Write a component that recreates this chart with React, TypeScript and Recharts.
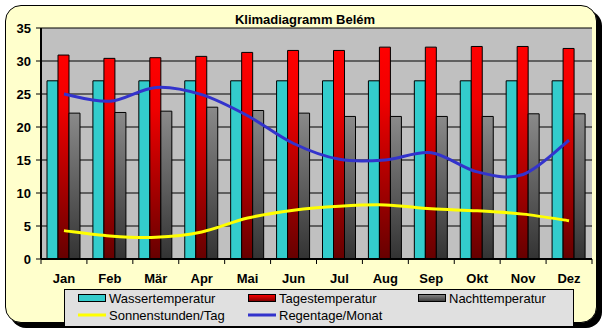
import {
  ComposedChart,
  Bar,
  Line,
  XAxis,
  YAxis,
  CartesianGrid,
} from "recharts";

const months = ["Jan", "Feb", "Mär", "Apr", "Mai", "Jun", "Jul", "Aug", "Sep", "Okt", "Nov", "Dez"];
const wasser = [27, 27, 27, 27, 27, 27, 27, 27, 27, 27, 27, 27];
const tages = [30.9, 30.4, 30.5, 30.7, 31.3, 31.6, 31.6, 32.1, 32.1, 32.2, 32.2, 31.9];
const nacht = [22.1, 22.2, 22.4, 23.0, 22.5, 22.1, 21.6, 21.6, 21.6, 21.6, 22.0, 22.0];
const sonne = [4.3, 3.5, 3.3, 4.1, 6.2, 7.4, 8.0, 8.2, 7.6, 7.3, 6.8, 5.8];
const regen = [25.0, 23.9, 26.0, 24.9, 21.7, 17.5, 15.1, 15.0, 16.1, 13.2, 12.8, 18.0];

const majorTicks = [0, 5, 10, 15, 20, 25, 30, 35];
const minorTicks = Array.from({ length: 36 }, (_, i) => i);

const data = months.map((m, i) => ({
  month: m,
  wasser: wasser[i],
  tages: tages[i],
  nacht: nacht[i],
  sonne: sonne[i],
  regen: regen[i],
}));

const FONT = "'Liberation Sans', Arial, sans-serif";

// Excel-like smoothed line (Catmull-Rom as cubic bezier)
const smoothCurve: any = (context: any) => {
  let pts: number[][] = [];
  return {
    areaStart() {},
    areaEnd() {},
    lineStart() {
      pts = [];
    },
    point(x: number, y: number) {
      pts.push([+x, +y]);
    },
    lineEnd() {
      const n = pts.length;
      if (!n) return;
      context.moveTo(pts[0][0], pts[0][1]);
      for (let i = 0; i < n - 1; i++) {
        const p0 = pts[Math.max(i - 1, 0)];
        const p1 = pts[i];
        const p2 = pts[i + 1];
        const p3 = pts[Math.min(i + 2, n - 1)];
        context.bezierCurveTo(
          p1[0] + (p2[0] - p0[0]) / 6,
          p1[1] + (p2[1] - p0[1]) / 6,
          p2[0] - (p3[0] - p1[0]) / 6,
          p2[1] - (p3[1] - p1[1]) / 6,
          p2[0],
          p2[1]
        );
      }
    },
  };
};

function MonthTick(props: any) {
  const { x, y, payload, index } = props;
  const half = payload?.offset ?? 551 / 24;
  return (
    <g>
      <line x1={x - half} x2={x - half} y1={y} y2={y + 5} stroke="#000" strokeWidth={1} />
      {index === months.length - 1 && (
        <line x1={x + half} x2={x + half} y1={y} y2={y + 5} stroke="#000" strokeWidth={1} />
      )}
      <text
        x={x}
        y={y + 24}
        textAnchor="middle"
        fill="#000"
        style={{ fontFamily: FONT, fontSize: 13, fontWeight: "bold" }}
      >
        {payload.value}
      </text>
    </g>
  );
}

const legendItems = [
  { label: "Wassertemperatur", kind: "box", fill: "#33CCCC", col: 0, row: 0 },
  { label: "Tagestemperatur", kind: "box", fill: "url(#legRed)", col: 1, row: 0 },
  { label: "Nachttemperatur", kind: "box", fill: "url(#legGray)", col: 2, row: 0 },
  { label: "Sonnenstunden/Tag", kind: "line", fill: "#FFFF00", col: 0, row: 1 },
  { label: "Regentage/Monat", kind: "line", fill: "#3333CC", col: 1, row: 1 },
];

export default function App() {
  return (
    <div style={{ position: "absolute", left: 0, top: 0, width: 609, height: 336, background: "#fff" }}>
      {/* frame with shadow */}
      <div
        style={{
          position: "absolute",
          left: 5,
          top: 5,
          width: 590,
          height: 316,
          background: "#FFFFCC",
          border: "1px solid #000",
          borderRadius: 16,
          boxShadow: "5px 5px 0 #000",
        }}
      />
      <div style={{ position: "absolute", left: 0, top: 0 }}>
        <ComposedChart
          width={609}
          height={336}
          data={data}
          margin={{ top: 28, right: 17, left: 8, bottom: 57 }}
          barGap={0}
        >
          <defs>
            <linearGradient id="redGrad" x1="0" y1="0" x2="0" y2="1">
              <stop offset="0%" stopColor="#FF0000" />
              <stop offset="25%" stopColor="#F00000" />
              <stop offset="100%" stopColor="#660000" />
            </linearGradient>
            <linearGradient id="grayGrad" x1="0" y1="0" x2="0" y2="1">
              <stop offset="0%" stopColor="#8A8A8A" />
              <stop offset="100%" stopColor="#333333" />
            </linearGradient>
          </defs>
          <CartesianGrid yAxisId="main" vertical={false} stroke="#000" fill="#C0C0C0" fillOpacity={1} />
          <XAxis
            dataKey="month"
            axisLine={{ stroke: "#000", strokeWidth: 2 }}
            tickLine={false}
            tickSize={0}
            tickMargin={0}
            height={20}
            interval={0}
            tick={<MonthTick />}
          />
          <YAxis
            yAxisId="main"
            domain={[0, 35]}
            ticks={majorTicks}
            interval={0}
            width={33}
            tickSize={5}
            tickMargin={5}
            axisLine={{ stroke: "#000", strokeWidth: 2 }}
            tickLine={{ stroke: "#000" }}
            tick={{ fill: "#000", fontSize: 13, fontWeight: "bold", fontFamily: FONT }}
          />
          <YAxis
            yAxisId="minor"
            domain={[0, 35]}
            ticks={minorTicks}
            interval={0}
            width={0}
            tickSize={5}
            axisLine={false}
            tickLine={{ stroke: "#000" }}
            tick={false}
          />
          <YAxis
            yAxisId="edge"
            orientation="right"
            domain={[0, 35]}
            width={0}
            tick={false}
            tickLine={false}
            axisLine={{ stroke: "#000", strokeWidth: 1.5 }}
          />
          <Bar yAxisId="main" dataKey="wasser" barSize={11} fill="#33CCCC" stroke="#000" strokeWidth={1} isAnimationActive={false} />
          <Bar yAxisId="main" dataKey="tages" barSize={11} fill="url(#redGrad)" stroke="#000" strokeWidth={1} isAnimationActive={false} />
          <Bar yAxisId="main" dataKey="nacht" barSize={11} fill="url(#grayGrad)" stroke="#000" strokeWidth={1} isAnimationActive={false} />
          <Line yAxisId="main" dataKey="sonne" type={smoothCurve} stroke="#FFFF00" strokeWidth={3} dot={false} isAnimationActive={false} />
          <Line yAxisId="main" dataKey="regen" type={smoothCurve} stroke="#3333CC" strokeWidth={3} dot={false} isAnimationActive={false} />
        </ComposedChart>
      </div>
      {/* title and legend */}
      <svg width={609} height={336} style={{ position: "absolute", left: 0, top: 0, pointerEvents: "none" }}>
        <defs>
          <linearGradient id="legRed" x1="0" y1="0" x2="0" y2="1">
            <stop offset="0%" stopColor="#FF0000" />
            <stop offset="100%" stopColor="#770000" />
          </linearGradient>
          <linearGradient id="legGray" x1="0" y1="0" x2="0" y2="1">
            <stop offset="0%" stopColor="#888888" />
            <stop offset="100%" stopColor="#383838" />
          </linearGradient>
        </defs>
        <text x={305} y={24} textAnchor="middle" style={{ fontFamily: FONT, fontSize: 13, fontWeight: "bold" }}>
          Klimadiagramm Belém
        </text>
        <rect x={64.5} y={289.5} width={509} height={37} fill="#E0E0E0" stroke="#000" />
        {legendItems.map((it) => {
          const x0 = 78 + it.col * 170;
          const yc = 298 + it.row * 17;
          return (
            <g key={it.label}>
              {it.kind === "box" ? (
                <rect x={x0 + 0.5} y={yc - 3.5} width={27} height={7} fill={it.fill} stroke="#000" />
              ) : (
                <line x1={x0} x2={x0 + 28} y1={yc} y2={yc} stroke={it.fill} strokeWidth={3} />
              )}
              <text x={x0 + 31} y={yc + 5} style={{ fontFamily: FONT, fontSize: 13 }}>
                {it.label}
              </text>
            </g>
          );
        })}
      </svg>
    </div>
  );
}
